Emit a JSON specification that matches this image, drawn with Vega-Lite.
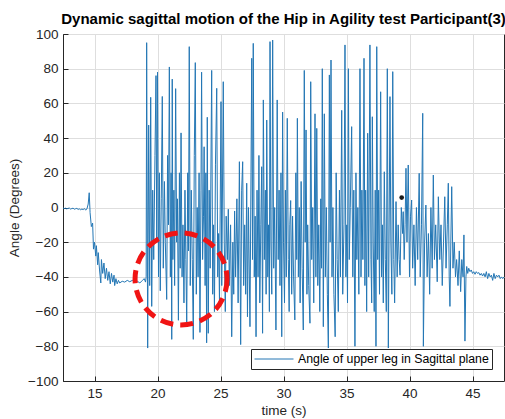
{
  "$schema": "https://vega.github.io/schema/vega-lite/v6.json",
  "width": 441,
  "height": 347,
  "autosize": {"type": "none"},
  "padding": {"left": 63, "top": 34, "right": 1, "bottom": 38},
  "background": "white",
  "title": {"text": "Dynamic sagittal motion of the Hip in Agility test Participant(3)", "font": "Liberation Sans", "fontSize": 15, "fontWeight": "bold", "color": "#000000", "anchor": "middle", "offset": 5, "dy": 5},
  "config": {
    "font": "Liberation Sans",
    "view": {"stroke": "#262626", "strokeWidth": 1},
    "axis": {"labelFont": "Liberation Sans", "labelFontSize": 13.5, "labelColor": "#262626", "labelOverlap": false, "titleFont": "Liberation Sans", "titleFontSize": 13.5, "titleFontWeight": "normal", "titleColor": "#262626", "domainColor": "#262626", "tickColor": "#262626", "gridColor": "#dedede", "gridOpacity": 1, "tickSize": -5, "labelPadding": 10}
  },
  "datasets": {
    "sig": [
      {"t":12.5,"v":-0.3},{"t":12.6,"v":-0.6},{"t":12.7,"v":-0.4},{"t":12.8,"v":-0.8},{"t":12.9,"v":-0.5},{"t":13.0,"v":-0.3},{"t":13.1,"v":-0.9},{"t":13.2,"v":-0.6},{"t":13.3,"v":-0.4},{"t":13.4,"v":-1.0},{"t":13.5,"v":-0.7},{"t":13.6,"v":-0.5},{"t":13.7,"v":-1.1},{"t":13.8,"v":-0.8},{"t":13.9,"v":-1.3},{"t":14.0,"v":-0.9},{"t":14.1,"v":-1.2},{"t":14.2,"v":-0.6},{"t":14.3,"v":-1.5},{"t":14.4,"v":-0.8},{"t":14.5,"v":2},{"t":14.58,"v":8.5},{"t":14.65,"v":-3},{"t":14.75,"v":-11},{"t":14.85,"v":-9},{"t":14.92,"v":-24},{"t":15.0,"v":-20},{"t":15.1,"v":-28},{"t":15.15,"v":-22},{"t":15.25,"v":-33},{"t":15.3,"v":-26},{"t":15.4,"v":-36},{"t":15.5,"v":-43.5},{"t":15.55,"v":-30},{"t":15.65,"v":-38},{"t":15.75,"v":-32},{"t":15.85,"v":-41},{"t":15.95,"v":-35},{"t":16.05,"v":-42},{"t":16.15,"v":-37},{"t":16.25,"v":-44},{"t":16.35,"v":-38},{"t":16.45,"v":-43},{"t":16.55,"v":-39},{"t":16.6,"v":-45},{"t":16.7,"v":-41},{"t":16.8,"v":-44},{"t":16.9,"v":-42},{"t":17.0,"v":-43.5},{"t":17.2,"v":-42.5},{"t":17.4,"v":-43},{"t":17.6,"v":-42},{"t":17.8,"v":-42.8},{"t":18.0,"v":-42},{"t":18.2,"v":-43},{"t":18.4,"v":-42.5},{"t":18.6,"v":-43.5},{"t":18.8,"v":-42},{"t":18.95,"v":-41},{"t":19.05,"v":-43},
      {"t":19.1,"v":-40},{"t":19.14,"v":95},{"t":19.22,"v":-81},{"t":19.3,"v":47.5},{"t":19.38,"v":-45},{"t":19.46,"v":63.5},{"t":19.54,"v":-57},{"t":19.62,"v":10},{"t":19.7,"v":-30},{"t":19.8,"v":30},{"t":19.88,"v":76},{"t":19.94,"v":-20},{"t":20.0,"v":78},{"t":20.08,"v":-40},{"t":20.15,"v":20},{"t":20.22,"v":-48},{"t":20.3,"v":5},{"t":20.38,"v":64},{"t":20.46,"v":-35},{"t":20.55,"v":15},{"t":20.62,"v":-20},{"t":20.73,"v":-53},{"t":20.8,"v":30},{"t":20.87,"v":-10},{"t":20.94,"v":81},{"t":21.02,"v":-40},{"t":21.08,"v":20},{"t":21.13,"v":-76},{"t":21.17,"v":74},{"t":21.22,"v":-30},{"t":21.3,"v":10},{"t":21.36,"v":-45},{"t":21.44,"v":68.5},{"t":21.52,"v":-20},{"t":21.58,"v":5},{"t":21.66,"v":-65},{"t":21.74,"v":20},{"t":21.8,"v":-35},{"t":21.87,"v":43},{"t":21.95,"v":-40},{"t":22.02,"v":-10},{"t":22.1,"v":-55},{"t":22.18,"v":10},{"t":22.25,"v":-30},{"t":22.32,"v":-67},{"t":22.4,"v":20},{"t":22.46,"v":-25},{"t":22.52,"v":92.7},{"t":22.6,"v":-45},{"t":22.68,"v":10},{"t":22.76,"v":-30},{"t":22.84,"v":-76},{"t":22.92,"v":30},{"t":23.0,"v":83.5},{"t":23.08,"v":-50},{"t":23.15,"v":0},{"t":23.22,"v":-40},{"t":23.3,"v":20},{"t":23.37,"v":-72},{"t":23.45,"v":10},{"t":23.5,"v":78},{"t":23.58,"v":-30},{"t":23.65,"v":-5},{"t":23.7,"v":35},{"t":23.78,"v":-45},{"t":23.84,"v":20},{"t":23.9,"v":-78},{"t":23.95,"v":52},{"t":24.03,"v":-72.5},{"t":24.1,"v":10},{"t":24.18,"v":-35},{"t":24.3,"v":79},{"t":24.38,"v":-50},{"t":24.45,"v":-10},{"t":24.52,"v":-60},{"t":24.6,"v":25},{"t":24.7,"v":68.7},{"t":24.78,"v":-40},{"t":24.85,"v":-15},{"t":24.92,"v":-55},{"t":25.04,"v":61},{"t":25.1,"v":-45},{"t":25.22,"v":72.5},{"t":25.3,"v":-20},{"t":25.38,"v":-60},{"t":25.45,"v":-5},{"t":25.55,"v":-30},{"t":25.62,"v":-1},{"t":25.7,"v":-45},{"t":25.8,"v":-10},{"t":25.89,"v":-74.5},{"t":25.98,"v":-20},{"t":26.05,"v":-50},{"t":26.12,"v":-2},{"t":26.2,"v":-40},{"t":26.3,"v":5},{"t":26.4,"v":-55},{"t":26.5,"v":26.4},{"t":26.6,"v":-79},{"t":26.68,"v":10},{"t":26.76,"v":26.4},{"t":26.84,"v":-45},{"t":26.92,"v":-10},{"t":27.0,"v":-50},{"t":27.08,"v":14},{"t":27.14,"v":-63},{"t":27.22,"v":0},{"t":27.34,"v":-68.7},{"t":27.42,"v":20},{"t":27.48,"v":86},{"t":27.54,"v":-30},{"t":27.6,"v":94.6},{"t":27.68,"v":-40},{"t":27.75,"v":-5},{"t":27.82,"v":-74.5},{"t":27.9,"v":10},{"t":27.98,"v":-40},{"t":28.05,"v":30},{"t":28.12,"v":-55},{"t":28.2,"v":-10},{"t":28.27,"v":23.5},{"t":28.34,"v":-72.5},{"t":28.4,"v":62},{"t":28.48,"v":-30},{"t":28.56,"v":10},{"t":28.62,"v":-50},{"t":28.67,"v":50.4},{"t":28.75,"v":-40},{"t":28.82,"v":-10},{"t":28.88,"v":-60},{"t":28.93,"v":95.6},{"t":29.0,"v":-20},{"t":29.07,"v":-50},{"t":29.14,"v":96.5},{"t":29.22,"v":-35},{"t":29.3,"v":0},{"t":29.4,"v":-70.6},{"t":29.5,"v":62},{"t":29.58,"v":-30},{"t":29.65,"v":10},{"t":29.72,"v":-45},{"t":29.8,"v":20},{"t":29.86,"v":-74.5},{"t":29.93,"v":55},{"t":30.0,"v":-20},{"t":30.08,"v":-55},{"t":30.15,"v":10},{"t":30.22,"v":-40},{"t":30.3,"v":51.4},{"t":30.38,"v":-30},{"t":30.45,"v":-60},{"t":30.5,"v":-10},{"t":30.57,"v":4},{"t":30.65,"v":-50},{"t":30.72,"v":-5},{"t":30.8,"v":-40},{"t":30.9,"v":-64.8},{"t":30.98,"v":20},{"t":31.05,"v":-30},{"t":31.1,"v":51.4},{"t":31.18,"v":-40},{"t":31.25,"v":0},{"t":31.32,"v":-55},{"t":31.4,"v":15},{"t":31.48,"v":-35},{"t":31.57,"v":-70.6},{"t":31.65,"v":79},{"t":31.72,"v":-20},{"t":31.79,"v":44.7},{"t":31.86,"v":-50},{"t":31.92,"v":-10},{"t":32.0,"v":-45},{"t":32.1,"v":-66.7},{"t":32.16,"v":72.5},{"t":32.24,"v":-30},{"t":32.32,"v":0},{"t":32.4,"v":-55},{"t":32.5,"v":54},{"t":32.57,"v":-40},{"t":32.64,"v":45.6},{"t":32.72,"v":-45},{"t":32.8,"v":-10},{"t":32.88,"v":-60},{"t":32.96,"v":5},{"t":33.02,"v":-35},{"t":33.08,"v":80},{"t":33.16,"v":-68.7},{"t":33.24,"v":54},{"t":33.32,"v":-40},{"t":33.4,"v":0},{"t":33.48,"v":-50},{"t":33.56,"v":-81},{"t":33.64,"v":76.4},{"t":33.7,"v":-20},{"t":33.77,"v":85},{"t":33.85,"v":-40},{"t":33.92,"v":0},{"t":34.0,"v":-50},{"t":34.1,"v":-74.5},{"t":34.18,"v":20},{"t":34.26,"v":-30},{"t":34.35,"v":-60},{"t":34.44,"v":10},{"t":34.52,"v":-40},{"t":34.62,"v":56},{"t":34.7,"v":-50},{"t":34.8,"v":-10},{"t":34.88,"v":93.7},{"t":34.95,"v":-40},{"t":35.02,"v":-10},{"t":35.08,"v":-55},{"t":35.15,"v":80},{"t":35.22,"v":-30},{"t":35.3,"v":0},{"t":35.41,"v":46.6},{"t":35.5,"v":-40},{"t":35.58,"v":10},{"t":35.67,"v":-80},{"t":35.75,"v":20},{"t":35.82,"v":-30},{"t":35.9,"v":0},{"t":35.98,"v":-50},{"t":36.07,"v":80},{"t":36.15,"v":-40},{"t":36.22,"v":10},{"t":36.3,"v":-30},{"t":36.39,"v":86},{"t":36.46,"v":-45},{"t":36.52,"v":10},{"t":36.6,"v":-60},{"t":36.68,"v":42.8},{"t":36.76,"v":-40},{"t":36.86,"v":93.7},{"t":36.94,"v":-30},{"t":37.0,"v":-55},{"t":37.05,"v":52.3},{"t":37.12,"v":-20},{"t":37.2,"v":-60},{"t":37.28,"v":10},{"t":37.34,"v":-80},{"t":37.4,"v":92.7},{"t":37.48,"v":-30},{"t":37.55,"v":10},{"t":37.62,"v":-50},{"t":37.71,"v":66.7},{"t":37.78,"v":-40},{"t":37.85,"v":-10},{"t":37.92,"v":-55},{"t":38.0,"v":20.6},{"t":38.08,"v":-30},{"t":38.16,"v":-60},{"t":38.24,"v":80},{"t":38.32,"v":-81},{"t":38.45,"v":63.9},{"t":38.52,"v":-20},{"t":38.6,"v":-50},{"t":38.67,"v":78.3},{"t":38.75,"v":-30},{"t":38.82,"v":-55},{"t":38.93,"v":3.4},{"t":39.02,"v":-40},{"t":39.1,"v":-10},{"t":39.18,"v":-30},{"t":39.25,"v":-39},{"t":39.35,"v":0},{"t":39.45,"v":-15},{"t":39.5,"v":-2.4},{"t":39.58,"v":-30},{"t":39.65,"v":-10},{"t":39.72,"v":22.6},{"t":39.8,"v":-20},{"t":39.9,"v":24.5},{"t":40.0,"v":-40},{"t":40.08,"v":-5},{"t":40.17,"v":4.3},{"t":40.25,"v":-35},{"t":40.35,"v":-10},{"t":40.45,"v":-45},{"t":40.55,"v":0},{"t":40.65,"v":-30},{"t":40.77,"v":19.7},{"t":40.85,"v":-40},{"t":40.95,"v":-10},{"t":41.05,"v":54.3},{"t":41.1,"v":-80},{"t":41.2,"v":-20},{"t":41.3,"v":1.4},{"t":41.4,"v":-40},{"t":41.5,"v":-15},{"t":41.6,"v":-50},{"t":41.7,"v":0},{"t":41.8,"v":-35},{"t":41.89,"v":18.7},{"t":41.98,"v":-30},{"t":42.08,"v":-10},{"t":42.2,"v":-42.8},{"t":42.29,"v":6.2},{"t":42.4,"v":-30},{"t":42.5,"v":-10},{"t":42.6,"v":-45},{"t":42.7,"v":-20},{"t":42.8,"v":6.2},{"t":42.9,"v":-35},{"t":43.0,"v":-10},{"t":43.08,"v":14},{"t":43.15,"v":-40},{"t":43.21,"v":-57},{"t":43.28,"v":-20},{"t":43.35,"v":12},{"t":43.45,"v":-35},{"t":43.55,"v":-20},{"t":43.65,"v":-40},{"t":43.74,"v":-30},{"t":43.85,"v":-45},{"t":43.95,"v":-25},{"t":44.06,"v":-48.5},{"t":44.15,"v":-30},{"t":44.25,"v":-40},{"t":44.32,"v":-15.8},{"t":44.4,"v":-77},{"t":44.48,"v":-40},{"t":44.54,"v":-34},{"t":44.62,"v":-38},{"t":44.7,"v":-35},{"t":44.8,"v":-37},{"t":44.9,"v":-36},{"t":45.0,"v":-38},{"t":45.1,"v":-37},{"t":45.2,"v":-38.5},{"t":45.3,"v":-37},{"t":45.4,"v":-38},{"t":45.5,"v":-37.5},{"t":45.6,"v":-39},{"t":45.7,"v":-38},{"t":45.8,"v":-39.5},{"t":45.9,"v":-38},{"t":46.0,"v":-40},{"t":46.1,"v":-37},{"t":46.2,"v":-41},{"t":46.3,"v":-38},{"t":46.4,"v":-40},{"t":46.5,"v":-39},{"t":46.6,"v":-42},{"t":46.7,"v":-38},{"t":46.8,"v":-41},{"t":46.9,"v":-39},{"t":47.0,"v":-40},{"t":47.1,"v":-39},{"t":47.2,"v":-41},{"t":47.3,"v":-40},{"t":47.4,"v":-41},{"t":47.5,"v":-40}
    ],
    "circle": [{"t": 21.87, "v": -41.2}],
    "dot": [{"t": 39.38, "v": 5.7}]
  },
  "layer": [
    {
      "data": {"name": "sig"},
      "mark": {"type": "line", "strokeWidth": 1, "clip": true},
      "encoding": {
        "x": {"field": "t", "type": "quantitative", "scale": {"domain": [12.5, 47.5], "nice": false, "zero": false}, "axis": {"values": [15, 20, 25, 30, 35, 40, 45], "tickCount": 20, "title": "time (s)", "titlePadding": 4, "grid": true, "labelOverlap": false}},
        "y": {"field": "v", "type": "quantitative", "scale": {"domain": [-100, 100], "nice": false}, "axis": {"values": [-100, -80, -60, -40, -20, 0, 20, 40, 60, 80, 100], "tickCount": 20, "title": "Angle (Degrees)", "titlePadding": 6, "grid": true, "labelOverlap": false, "labelFlush": false}},
        "color": {"datum": "Angle of upper leg in Sagittal plane", "type": "nominal", "scale": {"range": ["#2477b5"]}, "legend": {"title": null, "orient": "bottom-right", "offset": 12, "strokeColor": "#262626", "fillColor": "white", "padding": 3, "symbolType": "M-1,0H5", "symbolSize": 169, "symbolStrokeWidth": 1, "labelFontSize": 12.3, "labelFont": "Liberation Sans", "labelColor": "#000000", "labelOffset": 30, "labelLimit": 0}}
      }
    },
    {
      "data": {"name": "circle"},
      "mark": {"type": "point", "filled": false, "stroke": "#f01414", "strokeWidth": 5, "strokeDash": [13, 7], "size": 8464, "opacity": 1},
      "encoding": {
        "x": {"field": "t", "type": "quantitative"},
        "y": {"field": "v", "type": "quantitative"}
      }
    },
    {
      "data": {"name": "dot"},
      "mark": {"type": "point", "filled": true, "color": "#1a1a1a", "size": 22, "opacity": 1},
      "encoding": {
        "x": {"field": "t", "type": "quantitative"},
        "y": {"field": "v", "type": "quantitative"}
      }
    }
  ]
}
